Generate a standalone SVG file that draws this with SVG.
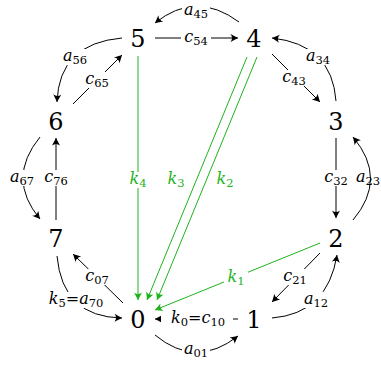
<svg xmlns="http://www.w3.org/2000/svg" width="381" height="367" viewBox="0 0 381 367">
<style>
.e{fill:none;stroke:#000;stroke-width:1}
.g{fill:none;stroke:#1db31d;stroke-width:1}
.n{font-size:24px;text-anchor:middle;fill:#000}
.l{font-size:16px;font-style:italic;text-anchor:middle;fill:#000}
.lg{font-size:16px;font-style:italic;text-anchor:middle;fill:#1db31d}
.s{font-size:11.5px;font-style:normal}
.u{font-style:normal}
.bg{fill:#fff}
</style>
<defs>
<marker id="ah" markerWidth="10" markerHeight="10" viewBox="-8 -5 10 10" refX="0" refY="0" orient="auto" markerUnits="userSpaceOnUse">
<path d="M0,0 L-7.5,-4 Q-4.5,0 -7.5,4 Z" fill="#000"/>
</marker>
<marker id="ahg" markerWidth="10" markerHeight="10" viewBox="-8 -5 10 10" refX="0" refY="0" orient="auto" markerUnits="userSpaceOnUse">
<path d="M0,0 L-7.5,-4 Q-4.5,0 -7.5,4 Z" fill="#1db31d"/>
</marker>
</defs>
<g id="connectors">
<path class="e" d="M155,38 L238,38" marker-end="url(#ah)"/>
<path class="e" d="M239,22 Q196,-10 155,23" marker-end="url(#ah)"/>
<path class="e" d="M336,101 Q332,44.5 272,38" marker-end="url(#ah)"/>
<path class="e" d="M272,54 L320,102" marker-end="url(#ah)"/>
<path class="e" d="M353,220 Q388,178.5 353,137" marker-end="url(#ah)"/>
<path class="e" d="M336,138 L336,218" marker-end="url(#ah)"/>
<path class="e" d="M272,318 Q327.5,313.5 337,255" marker-end="url(#ah)"/>
<path class="e" d="M320,253 L272,302" marker-end="url(#ah)"/>
<path class="e" d="M155,335 Q196,369 238,336" marker-end="url(#ah)"/>
<path class="e" d="M238,319 L155,319" marker-end="url(#ah)"/>
<path class="e" d="M57,256 Q62.5,317 122,318" marker-end="url(#ah)"/>
<path class="e" d="M123,303 L73,254" marker-end="url(#ah)"/>
<path class="e" d="M40,137 Q6,178.5 40,219" marker-end="url(#ah)"/>
<path class="e" d="M56,220 L56,138" marker-end="url(#ah)"/>
<path class="e" d="M122,38 Q59,43.5 57,102" marker-end="url(#ah)"/>
<path class="e" d="M73,104 L122,55" marker-end="url(#ah)"/>
<path class="g" d="M138,56 L138,300" marker-end="url(#ahg)"/>
<path class="g" d="M247,57 L147,300" marker-end="url(#ahg)"/>
<path class="g" d="M257,57 L157,300" marker-end="url(#ahg)"/>
<path class="g" d="M320,243 L155,310" marker-end="url(#ahg)"/>
<g id="labels" font-family="DejaVu Serif, serif">
<rect class="bg" x="182" y="1" width="28" height="16"/>
<text class="l" x="196" y="15">a<tspan class="s" dy="3">45</tspan></text>
<rect class="bg" x="181" y="30" width="30" height="16"/>
<text class="l" x="196" y="42">c<tspan class="s" dy="3">54</tspan></text>
<rect class="bg" x="304" y="49" width="28" height="16"/>
<text class="l" x="318" y="61">a<tspan class="s" dy="3">34</tspan></text>
<rect class="bg" x="280" y="70" width="28" height="16"/>
<text class="l" x="294" y="82">c<tspan class="s" dy="3">43</tspan></text>
<rect class="bg" x="61" y="49" width="28" height="16"/>
<text class="l" x="75" y="61">a<tspan class="s" dy="3">56</tspan></text>
<rect class="bg" x="83" y="72" width="28" height="16"/>
<text class="l" x="97" y="84">c<tspan class="s" dy="3">65</tspan></text>
<rect class="bg" x="8" y="170" width="28" height="16"/>
<text class="l" x="22" y="182">a<tspan class="s" dy="3">67</tspan></text>
<rect class="bg" x="42" y="170" width="28" height="16"/>
<text class="l" x="56" y="182">c<tspan class="s" dy="3">76</tspan></text>
<rect class="bg" x="126" y="172" width="24" height="16"/>
<text class="lg" x="138" y="184">k<tspan class="s" dy="3">4</tspan></text>
<text class="lg" x="176" y="184">k<tspan class="s" dy="3">3</tspan></text>
<text class="lg" x="225" y="184">k<tspan class="s" dy="3">2</tspan></text>
<rect class="bg" x="322" y="170" width="28" height="16"/>
<text class="l" x="336" y="182">c<tspan class="s" dy="3">32</tspan></text>
<text class="l" x="368" y="182">a<tspan class="s" dy="3">23</tspan></text>
<rect class="bg" x="224" y="270" width="24" height="16"/>
<text class="lg" x="236" y="282">k<tspan class="s" dy="3">1</tspan></text>
<rect class="bg" x="281" y="269" width="28" height="16"/>
<text class="l" x="295" y="281">c<tspan class="s" dy="3">21</tspan></text>
<rect class="bg" x="302" y="292" width="28" height="16"/>
<text class="l" x="316" y="304">a<tspan class="s" dy="3">12</tspan></text>
<rect class="bg" x="83" y="269" width="28" height="16"/>
<text class="l" x="97" y="281">c<tspan class="s" dy="3">07</tspan></text>
<rect class="bg" x="45" y="292" width="62" height="16"/>
<text class="l" x="76" y="304">k<tspan class="s" dy="3">5</tspan><tspan class="u" dy="-3">=</tspan>a<tspan class="s" dy="3">70</tspan></text>
<rect class="bg" x="161" y="311" width="72" height="16"/>
<text class="l" x="198" y="323">k<tspan class="s" dy="3">0</tspan><tspan class="u" dy="-3">=</tspan>c<tspan class="s" dy="3">10</tspan></text>
<rect class="bg" x="182" y="342" width="28" height="16"/>
<text class="l" x="196" y="354">a<tspan class="s" dy="3">01</tspan></text>
</g>
</g>
<g id="n0"><text class="n" font-family="DejaVu Serif, serif" x="138" y="328">0</text></g>
<g id="n1"><text class="n" font-family="DejaVu Serif, serif" x="254" y="328">1</text></g>
<g id="n2"><text class="n" font-family="DejaVu Serif, serif" x="336" y="247">2</text></g>
<g id="n3"><text class="n" font-family="DejaVu Serif, serif" x="336" y="130">3</text></g>
<g id="n4"><text class="n" font-family="DejaVu Serif, serif" x="254" y="47">4</text></g>
<g id="n5"><text class="n" font-family="DejaVu Serif, serif" x="138" y="47">5</text></g>
<g id="n6"><text class="n" font-family="DejaVu Serif, serif" x="56" y="130">6</text></g>
<g id="n7"><text class="n" font-family="DejaVu Serif, serif" x="56" y="247">7</text></g>
</svg>
